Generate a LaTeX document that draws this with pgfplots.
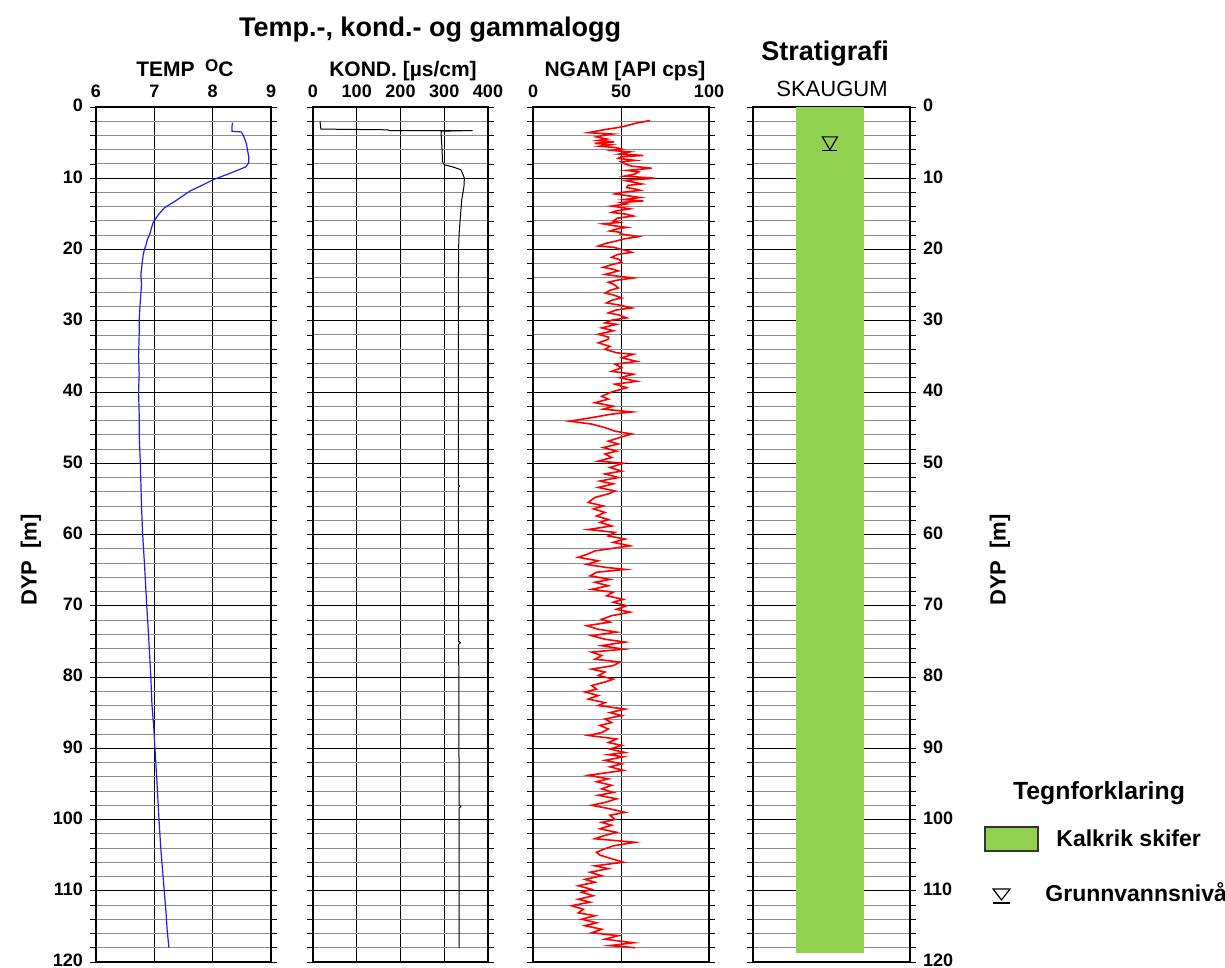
\documentclass[border=0pt]{standalone}
\usepackage{pgfplots}
\pgfplotsset{compat=1.18}
\usepackage{fontspec}
\setmainfont{Liberation Sans}
\definecolor{strgreen}{RGB}{146,208,80}
\definecolor{tempblue}{RGB}{30,30,235}

\pgfplotsset{
  logax/.style={
    scale only axis,
    height=427.5pt,
    anchor=north west,
    y dir=reverse,
    ymin=0, ymax=120,
    ytick={0,10,...,120},
    minor y tick num=4,
    ymajorgrids, yminorgrids,
    major grid style={black, line width=0.5pt},
    minor grid style={black!45, line width=0.5pt},
    axis line style={black, line width=0.6pt},
    xticklabel pos=right,
    ytick pos=both,
    tick align=outside,
    major tick length=3pt,
    minor tick length=3pt,
    xtick style={draw=none},
    ytick style={black, line width=0.4pt},
    tick label style={font=\bfseries\fontsize{9}{10}\selectfont},
    x tick label style={yshift=-2pt},
    y tick label style={yshift=0.7pt},
    /pgf/number format/assume math mode=true,
  },
}

\begin{document}
\begin{tikzpicture}[x=0.5pt,y=0.5pt]
\path[use as bounding box] (0,0) rectangle (1225,968);

% ---------- TEMP ----------
\begin{axis}[logax, at={(48pt,430.5pt)}, width=87.5pt,
  xmin=6, xmax=9, xtick={6,7,8,9}, xmajorgrids]
\addplot[tempblue, line width=0.6pt] coordinates {
(8.34,2.2) (8.33,2.8) (8.33,3.4) (8.49,3.5) (8.52,3.9) (8.55,4.5) (8.58,5.2)
(8.60,6.2) (8.62,7.0) (8.62,7.8) (8.57,8.4) (8.30,9.3) (8.01,10.2) (7.84,10.9)
(7.61,11.8) (7.36,13.2) (7.18,14.1) (7.07,15.1) (6.98,16.2) (6.95,17.0) (6.92,17.9)
(6.88,18.6) (6.86,19.3) (6.83,20.0) (6.81,20.7) (6.79,22.0) (6.77,23.5) (6.78,25.0)
(6.76,27.2) (6.75,28.5) (6.74,30.1) (6.74,32.0) (6.73,35) (6.74,37.5) (6.73,40)
(6.74,43) (6.74,46) (6.76,50) (6.77,53) (6.78,56) (6.80,60) (6.83,64) (6.85,67)
(6.87,70) (6.90,74) (6.92,77) (6.94,80) (6.96,84) (6.99,87) (7.01,90) (7.04,94)
(7.06,97) (7.08,100) (7.11,104) (7.14,107) (7.17,110) (7.20,113) (7.22,115.5) (7.25,118)
};
\end{axis}

% ---------- KOND ----------
\begin{axis}[logax, at={(156.5pt,430.5pt)}, width=87.5pt,
  xmin=0, xmax=400, xtick={0,100,200,300,400}, xmajorgrids, yticklabels={}]
\addplot[black, line width=0.5pt] coordinates {
(16,2.0) (18,3.1) (170,3.2) (175,3.3) (365,3.3) (293,3.4) (293,4.0) (295,6.0)
(296,7.7) (300,8.1) (319,8.4) (338,8.8) (343,9.5) (346,10.0) (345,11.2) (340,13.0)
(337,15.3) (334,17.7) (333,19.5) (332,27.9) (334,28.1) (332,28.3) (332,35) (332,53)
(335,53.2) (332,53.4) (333,75) (337,75.2) (333,75.4) (334,98) (338,98.2) (334,98.4) (334,118)
};
\end{axis}

% ---------- NGAM ----------
\begin{axis}[logax, at={(266.5pt,430.5pt)}, width=88pt,
  xmin=0, xmax=100, xtick={0,50,100}, xmajorgrids, yticklabels={}]
\addplot[red, line width=0.8pt] coordinates {
(66.5,1.9) (58,2.3) (50.4,2.8) (40,3.2) (31.4,3.6) (45,3.8) (40,4.0) (36,4.2)
(42,4.5) (37,4.7) (46,4.9) (35,5.1) (44,5.3) (38,5.5) (47,5.7) (50.4,5.9)
(45,6.1) (55,6.3) (49,6.6) (62.7,6.8) (50,7.0) (48.5,7.2) (58,7.5) (50,7.7)
(52.3,8.0) (56,8.3) (67.5,8.6) (53.2,8.9) (60,9.1) (58,9.4) (52,9.7) (69.4,10.0)
(52.3,10.3) (58,10.6) (61.8,10.8) (54,11.0) (53.2,11.3) (58,11.5) (60.8,11.7) (50,12.0)
(46.6,12.2) (55,12.5) (60.8,12.7) (52,13.0) (62.7,13.2) (50,13.4) (53.2,13.6) (44.7,13.9)
(50,14.1) (55.1,14.3) (47,14.6) (44.7,14.8) (52,15.0) (57,15.3) (48,15.6) (45.6,16.0)
(49,16.2) (39.9,16.4) (47,16.7) (53.2,16.9) (48,17.1) (43.7,17.4) (50,17.6) (49.4,17.8)
(55,18.0) (59.9,18.2) (52,18.5) (47.5,18.8) (42,19.1) (37.1,19.5) (46,19.7) (50.4,20.0)
(54,20.2) (56.1,20.4) (48,20.7) (44.7,21.1) (49,21.4) (50.4,21.8) (45,22.1) (39.9,22.5)
(46,22.8) (48.5,23.0) (44,23.3) (40.9,23.5) (50,23.8) (57,24.0) (48,24.3) (42.8,24.6)
(46,24.9) (48.5,25.4) (44,25.7) (40.9,26.1) (46,26.4) (50.4,26.8) (45,27.1) (41.8,27.5)
(49,27.8) (56.1,28.2) (47,28.5) (42.8,28.9) (49,29.2) (53.2,29.6) (45,29.9) (40.9,30.3)
(47.5,30.5) (39,31.0) (45.6,31.4) (37.1,31.9) (43,32.3) (42.8,32.6) (37.1,33.1) (43.7,33.6)
(40.9,34.0) (47.5,34.5) (57,34.7) (50.4,35.2) (58.9,35.7) (46.6,36.1) (50.4,36.6) (44.7,37.1)
(57,37.5) (49.4,38.0) (58.9,38.5) (46.6,38.9) (53.2,39.4) (44.7,40.0) (39,40.6) (42.8,41.0)
(35.2,41.5) (45.6,42.0) (39.9,42.4) (56.1,42.8) (44.7,43.1) (33.3,43.6) (21,44.1) (33.3,44.5)
(40.9,45.0) (46.6,45.5) (56.1,45.9) (50.4,46.3) (42.8,46.9) (48.5,47.3) (39.9,47.8) (47.5,48.3)
(40.9,48.7) (44.7,49.2) (37.1,49.7) (51.3,50.0) (43.7,50.6) (50.4,51.1) (40.9,51.5) (48.5,52.0)
(38,52.5) (45.6,52.9) (37.1,53.4) (46.6,53.9) (42.8,54.3) (35.2,54.8) (31.4,55.5) (39.9,56.0)
(34.3,56.4) (40.9,56.9) (36.1,57.4) (42.8,57.9) (38,58.3) (44.7,58.8) (31.4,59.3) (46.6,59.7)
(42.8,60.2) (52.3,60.65) (45.6,61.1) (55.1,61.6) (35.2,62.3) (30.5,62.8) (25.7,63.2) (37.1,63.7)
(30.5,64.2) (40.9,64.6) (52.3,64.9) (36.1,65.3) (32.4,65.8) (43.7,66.3) (35.2,66.7) (42.8,67.2)
(33.3,67.7) (45.6,68.1) (41.8,68.6) (51.3,69.1) (45.6,69.5) (53.2,70.0) (47.5,70.5) (55.1,70.9)
(44.7,71.4) (39,71.9) (43.7,72.3) (30.5,72.8) (37.1,73.3) (47.5,73.7) (33.3,74.2) (40.9,74.7)
(52.3,75.1) (39,75.6) (51.3,76.1) (33.3,76.5) (39,77.0) (35.2,77.5) (49.4,77.9) (45.6,78.4)
(33.3,78.9) (40.9,79.3) (37.1,79.8) (45.6,80.3) (40.9,80.7) (33.3,81.2) (36.1,81.7) (29.5,82.1)
(37.1,82.6) (31.4,83.1) (40.9,83.6) (37.1,84.0) (52.3,84.5) (43.7,85.0) (50.4,85.4) (40.9,85.9)
(44.7,86.4) (38,86.8) (42.8,87.3) (39,87.8) (31.4,88.2) (47.5,88.7) (42.8,89.2) (50.4,89.6)
(43.7,90.1) (52.3,90.6) (42.8,90.9) (51.3,91.2) (40.9,91.7) (50.4,92.2) (43.7,92.6) (51.3,93.1)
(31.4,93.8) (42.8,94.3) (36.1,94.7) (44.7,95.2) (39,95.7) (45.6,96.2) (37.1,96.6) (47.5,97.1)
(40.9,97.6) (33.3,98.0) (43.7,98.5) (52.3,99.0) (43.7,99.4) (46.6,100.0) (39,100.4) (44.7,100.8)
(38,101.3) (47.5,101.8) (39.9,102.3) (35.2,102.7) (58,103.2) (45.6,103.7) (40.9,104.1) (36.1,104.6)
(38,105.0) (44.7,105.5) (51.3,106.0) (35.2,106.5) (42.8,106.9) (32.4,107.4) (39,107.9) (29.5,108.4)
(35.2,108.8) (25.7,109.3) (33.3,109.8) (27.6,110.2) (34.3,110.7) (25.7,111.2) (32.4,111.6) (21.9,112.1)
(28.6,112.6) (25.7,113.1) (35.2,113.5) (27.6,114.0) (36.1,114.5) (29.5,114.9) (39,115.4) (33.3,115.9)
(48.5,116.3) (40.9,116.8) (57,117.3) (43.7,117.7) (58,118.0)
};
\end{axis}

% ---------- Stratigrafi ----------
\begin{axis}[logax, at={(376.5pt,430.5pt)}, width=78.5pt,
  xmin=0, xmax=1, xtick={0.5}, xticklabels={}, yticklabel pos=right,
  xtick style={black, line width=0.4pt}, xtick pos=bottom, xtick align=inside]
\addplot[fill=strgreen, draw=none] coordinates {(0.274,0) (0.707,0) (0.707,118.7) (0.274,118.7)} -- cycle;
\addplot[only marks, mark=triangle, mark size=4.3pt,
  mark options={rotate=180, black, line width=0.6pt}] coordinates {(0.49,4.8)};
\addplot[black, line width=0.6pt] coordinates {(0.442,6.1) (0.538,6.1)};
\end{axis}

% ---------- texts ----------
\node[font=\bfseries\fontsize{13.5}{14}\selectfont, anchor=base] at (430,931) {Temp.-, kond.- og gammalogg};
\node[font=\bfseries\fontsize{10.5}{12}\selectfont, anchor=base] at (185,891) {TEMP\hspace{0.5em}\raisebox{0.5ex}{\fontsize{8.5}{9}\selectfont O}C};
\node[font=\bfseries\fontsize{10.5}{12}\selectfont, anchor=base] at (403,891) {KOND. [µs/cm]};
\node[font=\bfseries\fontsize{10.5}{12}\selectfont, anchor=base] at (625,891) {NGAM [API cps]};
\node[font=\bfseries\fontsize{13.5}{14}\selectfont, anchor=base] at (825,907) {Stratigrafi};
\node[font=\fontsize{11}{12}\selectfont, anchor=base] at (832,871) {SKAUGUM};
\node[font=\bfseries\fontsize{11}{12}\selectfont, rotate=90] at (31,408) {DYP\ \ [m]};
\node[font=\bfseries\fontsize{11}{12}\selectfont, rotate=90] at (1000,408) {DYP\ \ [m]};

% legend
\node[font=\bfseries\fontsize{12.4}{13}\selectfont, anchor=base] at (1099,168) {Tegnforklaring};
\draw[fill=strgreen, draw=black!80, line width=0.6pt] (985,117) rectangle (1038,141);
\node[font=\bfseries\fontsize{11.5}{12}\selectfont, anchor=base west, inner sep=0pt] at (1056,121) {Kalkrik skifer};
\draw[black, line width=0.6pt] (993,79) -- (1010,79) -- (1001.5,68) -- cycle;
\draw[black, line width=0.6pt] (993,65) -- (1010,65);
\node[font=\bfseries\fontsize{11.5}{12}\selectfont, anchor=base west, inner sep=0pt] at (1045,66) {Grunnvannsnivå};
\end{tikzpicture}
\end{document}
